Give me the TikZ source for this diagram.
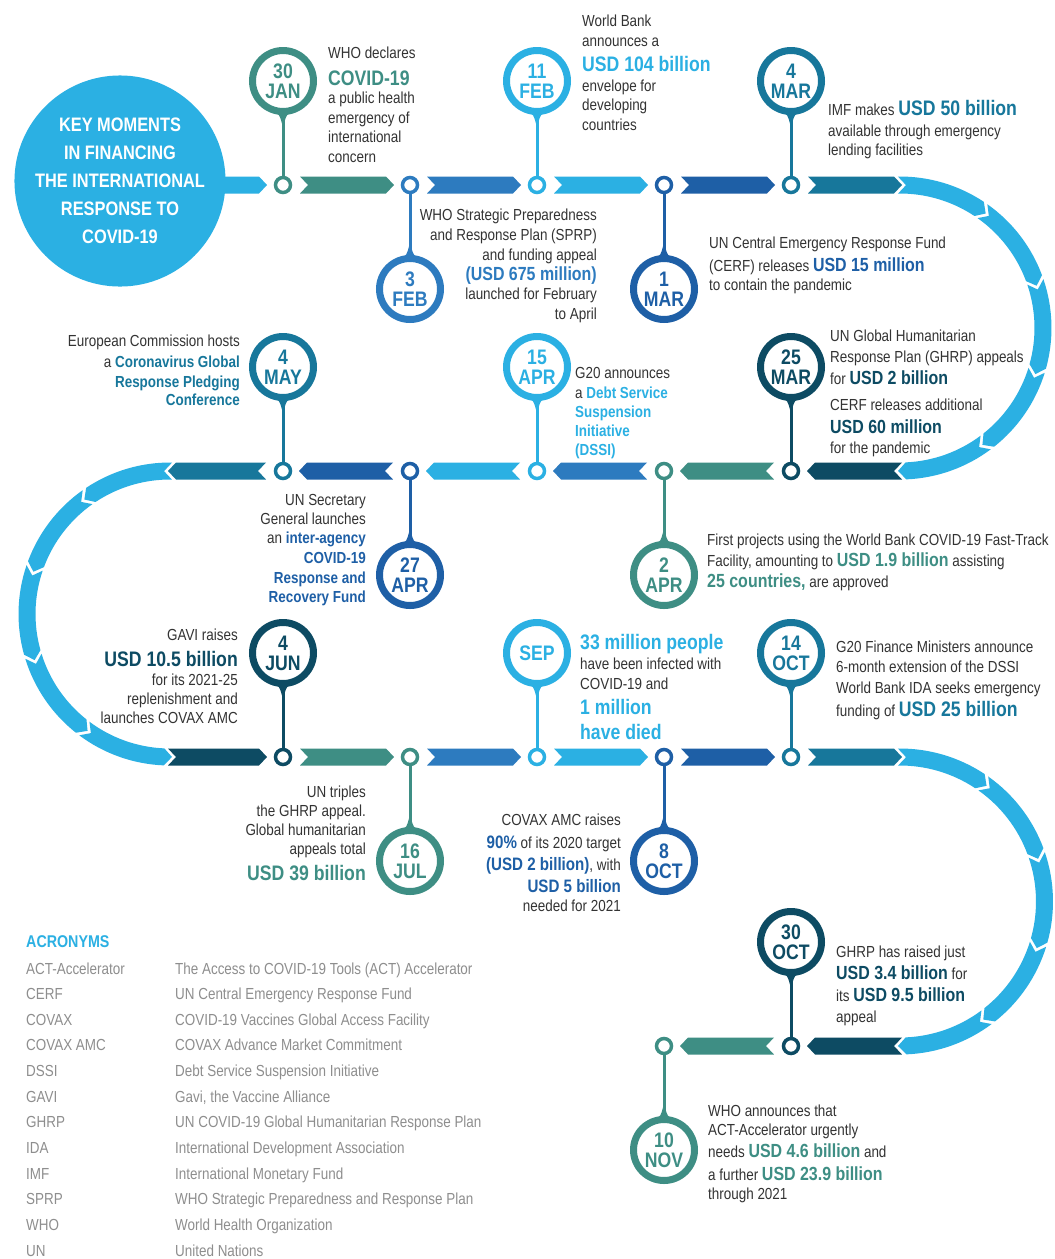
\documentclass[tikz,border=0pt]{standalone}
\usepackage{fontspec}
\setmainfont{Liberation Sans}[FakeStretch=0.84]
\usetikzlibrary{calc}
\definecolor{cLB}{HTML}{2BB0E3}
\definecolor{cTG}{HTML}{3E8E84}
\definecolor{cMB}{HTML}{2D7BBF}
\definecolor{cRB}{HTML}{1E5FA6}
\definecolor{cTB}{HTML}{17779B}
\definecolor{cNV}{HTML}{0D4B63}
\definecolor{cTX}{HTML}{333333}
\definecolor{cGR}{HTML}{8E8E8E}
\newcommand\hlt[3]{{\color{#1}\fontsize{#2}{#2}\selectfont\bfseries #3}}
\newcommand\lnL[4]{\node[txt,anchor=base west] (#1) at (#2,#3) {#4};}
\newcommand\lnR[4]{\node[txt,anchor=base east] (#1) at (#2,#3) {#4};}
\newcommand\segR[4]{\fill[#4] (#1,#3-8.5) -- (#2-8,#3-8.5) -- (#2,#3) -- (#2-8,#3+8.5) -- (#1,#3+8.5) -- (#1+8,#3) -- cycle;}
\newcommand\segL[4]{\fill[#4] (#1,#3-8.5) -- (#2+8,#3-8.5) -- (#2,#3) -- (#2+8,#3+8.5) -- (#1,#3+8.5) -- (#1-8,#3) -- cycle;}
\newcommand\bendarc[5]{%
 \foreach \k in {0,...,4}{%
  \pgfmathsetmacro\aT{#4+#5*(36*\k-0.8)}%
  \pgfmathsetmacro\aP{#4+#5*(36*\k+36.8)}%
  \pgfmathsetmacro\aQ{\aP-#5*3.2}%
  \pgfmathsetmacro\aU{\aT+#5*3.2}%
  \pgfmathsetmacro\rO{#3+8.5}%
  \pgfmathsetmacro\rI{#3-8.5}%
  \fill[cLB,shift={(#1,#2)}] (\aT:\rO) arc[start angle=\aT,end angle=\aQ,radius=\rO] -- (\aP:#3) -- (\aQ:\rI) arc[start angle=\aQ,end angle=\aT,radius=\rI] -- (\aU:#3) -- cycle;
 }}
\newcommand\pinev[7]{%
  \node[dotnode,draw=#5] (d#1) at (#2,#3) {};
  \fill[#5] ($(#2,#4)+(-12,{27*#7})$) .. controls ($(#2,#4)+(-3,{34*#7})$) .. ($(#2,#4)+(0,{47*#7})$) .. controls ($(#2,#4)+(3,{34*#7})$) .. ($(#2,#4)+(12,{27*#7})$) -- cycle;
  \node[pinnode,draw=#5,text=#5] (c#1) at (#2,#4) {#6};
  \draw[stem,#5] (c#1) -- (d#1);
}
\begin{document}
\begin{tikzpicture}[x=1pt,y=-1pt,
  txt/.style={inner sep=0pt,text=cTX,font=\fontsize{16}{19.5}\selectfont},
  acr/.style={inner sep=0pt,text=cGR,anchor=base west,font=\fontsize{16}{19.5}\selectfont},
  dotnode/.style={circle,line width=3.5pt,minimum size=15pt,inner sep=0pt,fill=white},
  pinnode/.style={circle,line width=7pt,minimum size=61pt,inner sep=0pt,fill=white,align=center,font=\fontsize{21}{20}\selectfont\bfseries},
  stem/.style={line width=3pt}]
\useasboundingbox (0,0) rectangle (1055,1259);
\fill[white] (0,0) rectangle (1055,1259);

% title
\node[circle,fill=cLB,minimum size=187pt,inner sep=0pt,text=white,align=center,
  font=\fontsize{19.5}{28}\selectfont\bfseries] (title) at (120,181)
  {KEY MOMENTS\\IN FINANCING\\THE INTERNATIONAL\\RESPONSE TO\\COVID-19};

% row 1
\fill[cLB] (218,176.5) -- (259,176.5) -- (267,185) -- (259,193.5) -- (218,193.5) -- cycle;
\segR{300}{394}{185}{cTG}
\segR{427}{521}{185}{cMB}
\segR{554}{648}{185}{cLB}
\segR{681}{775}{185}{cRB}
\segR{808}{902}{185}{cTB}
\bendarc{900}{328}{143}{-90}{1}
% row 2
\segL{902}{807}{471}{cNV}
\segL{774}{680}{471}{cTG}
\segL{647}{553}{471}{cMB}
\segL{520}{426}{471}{cLB}
\segL{393}{299}{471}{cRB}
\segL{266}{168}{471}{cTB}
\bendarc{170}{614}{143}{270}{(-1)}
% row 3
\segR{168}{267}{757}{cNV}
\segR{300}{394}{757}{cTG}
\segR{427}{521}{757}{cMB}
\segR{554}{648}{757}{cLB}
\segR{681}{775}{757}{cRB}
\segR{808}{902}{757}{cTB}
\bendarc{900}{901.5}{144.5}{-90}{1}
% row 4
\segL{902}{807}{1046}{cNV}
\segL{774}{680}{1046}{cTG}

% pins
\pinev{jan30}{283}{185}{81}{cTG}{30\\JAN}{1}
\pinev{feb3}{410}{185}{289}{cMB}{3\\FEB}{-1}
\pinev{feb11}{537}{185}{81}{cLB}{11\\FEB}{1}
\pinev{mar1}{664}{185}{289}{cRB}{1\\MAR}{-1}
\pinev{mar4}{791}{185}{81}{cTB}{4\\MAR}{1}
\pinev{mar25}{791}{471}{367}{cNV}{25\\MAR}{1}
\pinev{apr2}{664}{471}{575}{cTG}{2\\APR}{-1}
\pinev{apr15}{537}{471}{367}{cLB}{15\\APR}{1}
\pinev{apr27}{410}{471}{575}{cRB}{27\\APR}{-1}
\pinev{may4}{283}{471}{367}{cTB}{4\\MAY}{1}
\pinev{jun4}{283}{757}{653}{cNV}{4\\JUN}{1}
\pinev{jul16}{410}{757}{861}{cTG}{16\\JUL}{-1}
\pinev{sep}{537}{757}{653}{cLB}{SEP}{1}
\pinev{oct8}{664}{757}{861}{cRB}{8\\OCT}{-1}
\pinev{oct14}{791}{757}{653}{cTB}{14\\OCT}{1}
\pinev{oct30}{791}{1046}{942}{cNV}{30\\OCT}{1}
\pinev{nov10}{664}{1046}{1150}{cTG}{10\\NOV}{-1}

% 30 JAN
\lnL{a1}{328}{58}{WHO declares}
\lnL{a2}{328}{85}{\hlt{cTG}{21}{COVID-19}}
\lnL{a3}{328}{103}{a public health}
\lnL{a4}{328}{123}{emergency of}
\lnL{a5}{328}{142}{international}
\lnL{a6}{328}{162}{concern}
% 3 FEB
\lnR{b1}{597}{220}{WHO Strategic Preparedness}
\lnR{b2}{597}{240}{and Response Plan (SPRP)}
\lnR{b3}{597}{260}{and funding appeal}
\lnR{b4}{597}{280}{\hlt{cMB}{19}{(USD 675 million)}}
\lnR{b5}{597}{299}{launched for February}
\lnR{b6}{597}{319}{to April}
% 11 FEB
\lnL{c1}{582}{26}{World Bank}
\lnL{c2}{582}{46}{announces a}
\lnL{c3}{582}{71}{\hlt{cLB}{21}{USD 104 billion}}
\lnL{c4}{582}{91}{envelope for}
\lnL{c5}{582}{110}{developing}
\lnL{c6}{582}{130}{countries}
% 1 MAR
\lnL{e1}{709}{248}{UN Central Emergency Response Fund}
\lnL{e2}{709}{271}{(CERF) releases \hlt{cRB}{19}{USD 15 million}}
\lnL{e3}{709}{290}{to contain the pandemic}
% 4 MAR
\lnL{f1}{828}{115}{IMF makes \hlt{cTB}{21}{USD 50 billion}}
\lnL{f2}{828}{136}{available through emergency}
\lnL{f3}{828}{155}{lending facilities}
% 25 MAR
\lnL{g1}{830}{341}{UN Global Humanitarian}
\lnL{g2}{830}{362}{Response Plan (GHRP) appeals}
\lnL{g3}{830}{384}{for \hlt{cNV}{19}{USD 2 billion}}
\lnL{g4}{830}{410}{CERF releases additional}
\lnL{g5}{830}{433}{\hlt{cNV}{19}{USD 60 million}}
\lnL{g6}{830}{453}{for the pandemic}
% 2 APR
\lnL{h1}{707}{545}{First projects using the World Bank COVID-19 Fast-Track}
\lnL{h2}{707}{566}{Facility, amounting to \hlt{cTG}{19}{USD 1.9 billion} assisting}
\lnL{h3}{707}{587}{\hlt{cTG}{19}{25 countries,} are approved}
% 15 APR
\lnL{i1}{575}{378}{G20 announces}
\lnL{i2}{575}{398}{a \hlt{cLB}{16}{Debt Service}}
\lnL{i3}{575}{417}{\hlt{cLB}{16}{Suspension}}
\lnL{i4}{575}{436}{\hlt{cLB}{16}{Initiative}}
\lnL{i5}{575}{455}{\hlt{cLB}{16}{(DSSI)}}
% 27 APR
\lnR{j1}{366}{505}{UN Secretary}
\lnR{j2}{366}{524}{General launches}
\lnR{j3}{366}{543}{an \hlt{cRB}{16}{inter-agency}}
\lnR{j4}{366}{563}{\hlt{cRB}{16}{COVID-19}}
\lnR{j5}{366}{583}{\hlt{cRB}{16}{Response and}}
\lnR{j6}{366}{602}{\hlt{cRB}{16}{Recovery Fund}}
% 4 MAY
\lnR{k1}{240}{346}{European Commission hosts}
\lnR{k2}{240}{367}{a \hlt{cTB}{16}{Coronavirus Global}}
\lnR{k3}{240}{387}{\hlt{cTB}{16}{Response Pledging}}
\lnR{k4}{240}{405}{\hlt{cTB}{16}{Conference}}
% 4 JUN
\lnR{m1}{238}{640}{GAVI raises}
\lnR{m2}{238}{666}{\hlt{cNV}{21}{USD 10.5 billion}}
\lnR{m3}{238}{685}{for its 2021-25}
\lnR{m4}{238}{704}{replenishment and}
\lnR{m5}{238}{723}{launches COVAX AMC}
% 16 JUL
\lnR{n1}{366}{797}{UN triples}
\lnR{n2}{366}{816}{the GHRP appeal.}
\lnR{n3}{366}{835}{Global humanitarian}
\lnR{n4}{366}{854}{appeals total}
\lnR{n5}{366}{880}{\hlt{cTG}{21}{USD 39 billion}}
% SEP
\lnL{o1}{580}{649}{\hlt{cLB}{21}{33 million people}}
\lnL{o2}{580}{669}{have been infected with}
\lnL{o3}{580}{689}{COVID-19 and}
\lnL{o4}{580}{714}{\hlt{cLB}{21}{1 million}}
\lnL{o5}{580}{739}{\hlt{cLB}{21}{have died}}
% 8 OCT
\lnR{q1}{621}{825}{COVAX AMC raises}
\lnR{q2}{621}{848}{\hlt{cRB}{18}{90\%} of its 2020 target}
\lnR{q3}{621}{870}{\hlt{cRB}{18}{(USD 2 billion)}, with}
\lnR{q4}{621}{892}{\hlt{cRB}{18}{USD 5 billion}}
\lnR{q5}{621}{911}{needed for 2021}
% 14 OCT
\lnL{r1}{836}{652}{G20 Finance Ministers announce}
\lnL{r2}{836}{672}{6-month extension of the DSSI}
\lnL{r3}{836}{693}{World Bank IDA seeks emergency}
\lnL{r4}{836}{716}{funding of \hlt{cTB}{21}{USD 25 billion}}
% 30 OCT
\lnL{s1}{836}{957}{GHRP has raised just}
\lnL{s2}{836}{979}{\hlt{cNV}{19}{USD 3.4 billion} for}
\lnL{s3}{836}{1001}{its \hlt{cNV}{19}{USD 9.5 billion}}
\lnL{s4}{836}{1022}{appeal}
% 10 NOV
\lnL{u1}{708}{1116}{WHO announces that}
\lnL{u2}{708}{1135}{ACT-Accelerator urgently}
\lnL{u3}{708}{1157}{needs \hlt{cTG}{19}{USD 4.6 billion} and}
\lnL{u4}{708}{1180}{a further \hlt{cTG}{19}{USD 23.9 billion}}
\lnL{u5}{708}{1199}{through 2021}

% acronyms
\node[inner sep=0pt,anchor=base west] (acrh) at (26,947) {\hlt{cLB}{17}{ACRONYMS}};
\foreach \ab/\full [count=\i from 0] in {
  ACT-Accelerator/The Access to COVID-19 Tools (ACT) Accelerator,
  CERF/UN Central Emergency Response Fund,
  COVAX/COVID-19 Vaccines Global Access Facility,
  COVAX AMC/COVAX Advance Market Commitment,
  DSSI/Debt Service Suspension Initiative,
  GAVI/{Gavi, the Vaccine Alliance},
  GHRP/UN COVID-19 Global Humanitarian Response Plan,
  IDA/International Development Association,
  IMF/International Monetary Fund,
  SPRP/WHO Strategic Preparedness and Response Plan,
  WHO/World Health Organization,
  UN/United Nations}{
  \node[acr] (ab\i) at (26,{974+25.65*\i}) {\ab};
  \node[acr] (af\i) at (175,{974+25.65*\i}) {\full};
}
\end{tikzpicture}
\end{document}
